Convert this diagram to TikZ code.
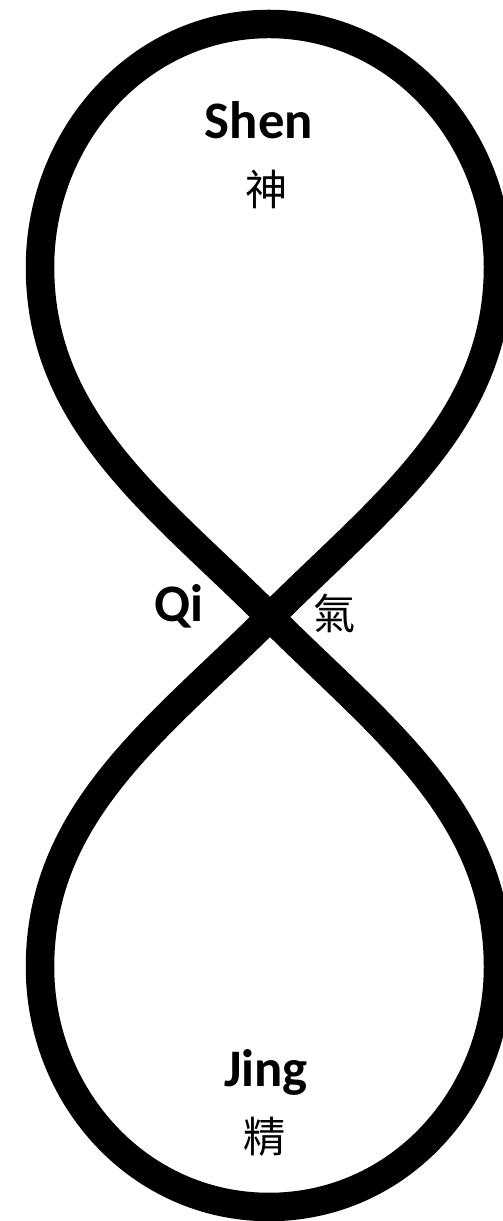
\documentclass[tikz,border=0pt]{standalone}
\usepackage{fontspec}
\setmainfont{Carlito}
\newfontfamily\cjk{Noto Sans CJK TC}
\begin{document}
\begin{tikzpicture}[
  x=0.02cm, y=0.02cm,
  eight/.style={line width=0.57cm, black},
  word/.style={anchor=base, font=\bfseries\fontsize{30}{32}\selectfont},
  hanzi/.style={font=\cjk\fontsize{24}{26}\selectfont}
]
\useasboundingbox (0,0) rectangle (503,1221);

% the figure eight
\coordinate (cross) at (270,604);
\coordinate (topright) at (498,954);
\coordinate (top) at (269,1197);
\coordinate (topleft) at (40,954);
\coordinate (botright) at (498,254);
\coordinate (bot) at (269,14);
\coordinate (botleft) at (40,254);

\draw[eight] (cross) to[out=45,in=-90,looseness=0.95] (topright)
  to[out=90,in=0] (top)
  to[out=180,in=90] (topleft)
  to[out=-90,in=135,looseness=0.95] (cross)
  to[out=-45,in=90,looseness=0.95] (botright)
  to[out=-90,in=0] (bot)
  to[out=180,in=-90] (botleft)
  to[out=90,in=225,looseness=0.95] cycle;

% labels
\node[word] (shen) at (259,1082) {Shen};
\node[hanzi] (shenzi) at (267,1032) {神};
\node[word] (qi) at (179,599) {Qi};
\node[hanzi] (qizi) at (335,608) {氣};
\node[word] (jing) at (266,134) {Jing};
\node[hanzi] (jingzi) at (265,84) {精};
\end{tikzpicture}
\end{document}
